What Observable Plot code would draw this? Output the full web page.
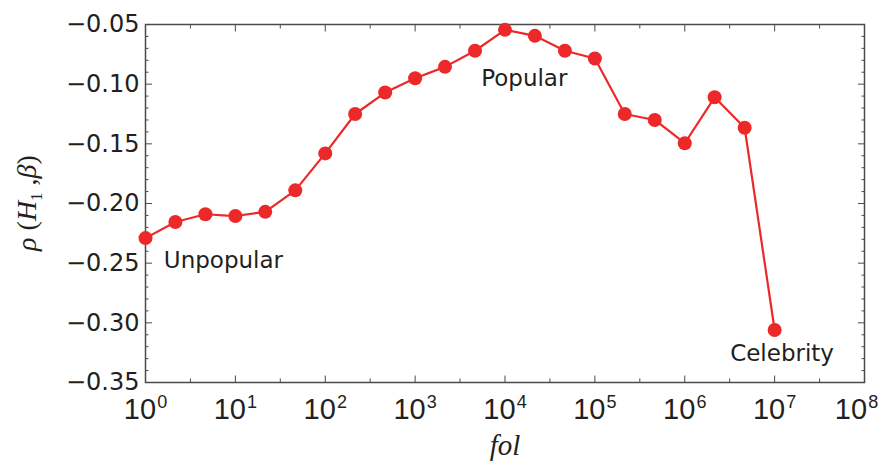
<!DOCTYPE html>
<html>
<head>
<meta charset="utf-8">
<script src="https://cdn.jsdelivr.net/npm/d3@7"></script>
<script src="https://cdn.jsdelivr.net/npm/@observablehq/plot@0.6"></script>
<style>
  html, body { margin: 0; padding: 0; background: #fff; }
  #chart svg { display: block; }
</style>
</head>
<body>
<div id="chart"></div>
<script>
// Followers bins (fol) and correlation values rho(H1, beta)
const fol = [1, 2.15, 4.64, 10, 21.5, 46.4, 100, 215, 464, 1000, 2150, 4640,
             10000, 21500, 46400, 100000, 215000, 464000, 1000000, 2150000, 4640000, 10000000];
const rho = [-0.229, -0.2155, -0.209, -0.2105, -0.207, -0.189, -0.158, -0.125, -0.107, -0.095, -0.0855, -0.072,
             -0.0545, -0.0595, -0.072, -0.0785, -0.125, -0.130, -0.1495, -0.111, -0.1365, -0.306];

const xTicks = [1, 10, 100, 1000, 10000, 100000, 1000000, 10000000, 100000000];
const xMinorTicks = [3.16, 31.6, 316, 3162, 31623, 316228, 3162278, 31622777];
const yTicks = [-0.35, -0.30, -0.25, -0.20, -0.15, -0.10, -0.05];
const yMinorTicks = [-0.34, -0.33, -0.32, -0.31, -0.29, -0.28, -0.27, -0.26, -0.24, -0.23, -0.22, -0.21,
                     -0.19, -0.18, -0.17, -0.16, -0.14, -0.13, -0.12, -0.11, -0.09, -0.08, -0.07, -0.06];
const yTickLabels = ["\u22120.35", "\u22120.30", "\u22120.25", "\u22120.20", "\u22120.15", "\u22120.10", "\u22120.05"];
const annotations = ["Unpopular", "Popular", "Celebrity"];

const data = fol.map((f, i) => ({fol: f, rho: rho[i]}));

const red = "#ec2828";
const ink = "#231f20";
const frameColor = "#4a4a4a";
const empty = () => "";

const tickCommon = {label: null, tickFormat: empty, stroke: frameColor, strokeWidth: 1};

const chart = Plot.plot({
  width: 881,
  height: 464,
  marginLeft: 145,
  marginRight: 17,
  marginTop: 24,
  marginBottom: 82,
  x: {type: "log", domain: [1, 1e8], label: null},
  y: {domain: [-0.35, -0.05], label: null},
  style: {background: "white", color: ink, fontFamily: "DejaVu Sans"},
  marks: [
    // inward ticks on all four sides
    Plot.axisX(xTicks, {...tickCommon, anchor: "bottom", tickSize: 6.5, dy: -6.5}),
    Plot.axisX(xMinorTicks, {...tickCommon, anchor: "bottom", tickSize: 3.5, dy: -3.5}),
    Plot.axisX(xTicks, {...tickCommon, anchor: "top", tickSize: 6.5, dy: 6.5}),
    Plot.axisX(xMinorTicks, {...tickCommon, anchor: "top", tickSize: 3.5, dy: 3.5}),
    Plot.axisY(yTicks, {...tickCommon, anchor: "left", tickSize: 7, dx: 7}),
    Plot.axisY(yMinorTicks, {...tickCommon, anchor: "left", tickSize: 3.5, dx: 3.5}),
    Plot.axisY(yTicks, {...tickCommon, anchor: "right", tickSize: 7, dx: -7}),
    Plot.axisY(yMinorTicks, {...tickCommon, anchor: "right", tickSize: 3.5, dx: -3.5}),
    // tick labels
    Plot.axisX(xTicks, {
      anchor: "bottom", label: null, tickSize: 0, tickPadding: 16,
      tickFormat: d => `10^${Math.round(Math.log10(d))}`,
      fontFamily: "Liberation Sans", fontSize: 29, fill: ink
    }),
    Plot.axisY(yTicks, {
      anchor: "left", label: null, tickSize: 0, tickPadding: 6,
      tickFormat: d => yTickLabels[yTicks.indexOf(d)],
      fontFamily: "DejaVu Sans", fontSize: 24, fill: ink
    }),
    Plot.frame({stroke: frameColor, strokeWidth: 1.5}),
    Plot.line(data, {x: "fol", y: "rho", stroke: red, strokeWidth: 2.2}),
    Plot.dot(data, {x: "fol", y: "rho", r: 7, fill: red, stroke: "none"}),
    Plot.text([annotations[0]], {x: 1.6, y: -0.2475, text: d => d, textAnchor: "start",
      fontFamily: "DejaVu Sans", fontSize: 23, fill: ink}),
    Plot.text([annotations[1]], {x: 16400, y: -0.0953, text: d => d, textAnchor: "middle",
      fontFamily: "DejaVu Sans", fontSize: 23, fill: ink}),
    Plot.text([annotations[2]], {x: 12100000, y: -0.3256, text: d => d, textAnchor: "middle",
      fontFamily: "DejaVu Sans", fontSize: 23, fill: ink})
  ]
});

document.getElementById("chart").append(chart);

// turn "10^k" labels into real superscripts
const NS = "http://www.w3.org/2000/svg";
const xLabelTexts = chart.querySelectorAll('g[aria-label="x-axis tick label"] text');
xLabelTexts.forEach((t, i) => {
  const s = t.textContent;
  if (!s.includes("^")) return;
  const [b, e] = s.split("^");
  t.textContent = "";
  t.setAttribute("font-family", "Liberation Sans");
  t.setAttribute("font-size", "29");
  t.style.fontFamily = "Liberation Sans";
  t.style.fontSize = "29px";
  t.style.fontVariant = "normal";
  if (i === xLabelTexts.length - 1) t.setAttribute("dx", "-8");
  const t1 = document.createElementNS(NS, "tspan");
  t1.textContent = b;
  const t2 = document.createElementNS(NS, "tspan");
  t2.setAttribute("font-size", "18");
  t2.style.fontSize = "18px";
  t2.setAttribute("dy", "-11.5");
  t2.setAttribute("dx", "1");
  t2.textContent = e;
  t.append(t1, t2);
});
chart.querySelectorAll('g[aria-label="y-axis tick label"] text').forEach(t => {
  t.style.fontFamily = "DejaVu Sans";
  t.style.fontSize = "24px";
  t.style.fontVariant = "normal";
});

// axis titles
const svg = d3.select(chart);
svg.append("text")
  .attr("x", 505)
  .attr("y", 455)
  .attr("text-anchor", "middle")
  .attr("font-family", "Liberation Serif")
  .attr("font-style", "italic")
  .attr("font-size", 29)
  .attr("fill", ink)
  .text("fol");

const yl = svg.append("text")
  .attr("transform", "translate(36,203) rotate(-90)")
  .attr("text-anchor", "middle")
  .attr("font-family", "Liberation Serif")
  .attr("font-size", 28)
  .attr("fill", ink);
yl.append("tspan").attr("font-style", "italic").text("\u03C1 ");
yl.append("tspan").text("(");
yl.append("tspan").attr("font-style", "italic").text("H");
yl.append("tspan").attr("font-size", 17).attr("dy", 6).text("1");
yl.append("tspan").attr("dy", -6).text(" ,");
yl.append("tspan").attr("font-style", "italic").text("\u03B2");
yl.append("tspan").text(")");
</script>
</body>
</html>
